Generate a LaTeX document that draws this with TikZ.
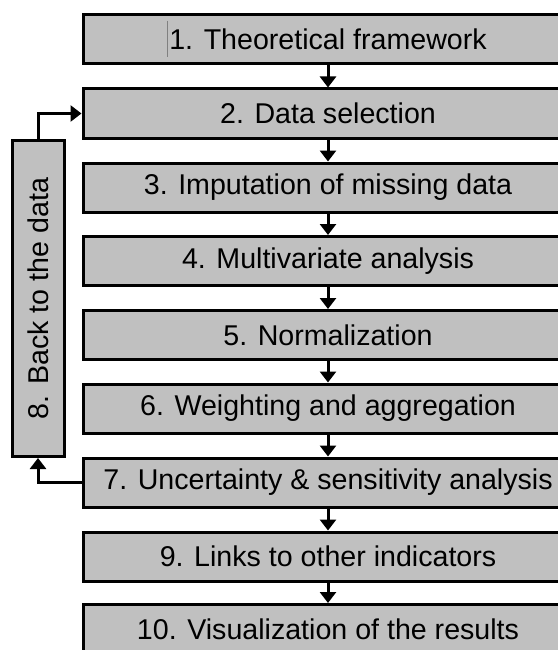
\documentclass[tikz,border=0pt]{standalone}
\usepackage{fontspec}
\setmainfont{Liberation Sans}
\usetikzlibrary{arrows.meta}
\definecolor{boxgray}{RGB}{192,192,192}
\begin{document}
\begin{tikzpicture}[x=1pt,y=-1pt,
  stage/.style={draw=black, line width=3pt, fill=boxgray,
    minimum width=490pt, minimum height=49pt, inner sep=0pt,
    font=\fontsize{28.6}{34}\selectfont},
  flow/.style={line width=3pt,
    -{Triangle[width=16pt,length=11pt]}}]
\useasboundingbox (0,0) rectangle (557,650);
% main column of stages
\node[stage] (s1)  at (328, 39.5)  {1. Theoretical framework};
\node[stage] (s2)  at (328,113.5) {2. Data selection};
\node[stage] (s3)  at (328,187.5) {3. Imputation of missing data};
\node[stage] (s4)  at (328,261)   {4. Multivariate analysis};
\node[stage] (s5)  at (328,335)   {5. Normalization};
\node[stage] (s6)  at (328,408.5) {6. Weighting and aggregation};
\node[stage] (s7)  at (328,482.5) {7. Uncertainty \& sensitivity analysis};
\node[stage] (s9)  at (328,556.5) {9. Links to other indicators};
\node[stage] (s10) at (328,629)   {10. Visualization of the results};
% feedback box on the left
\node[stage, minimum width=52pt, minimum height=316pt] (s8) at (38,298.5) {};
\node[rotate=90, font=\fontsize{28.6}{34}\selectfont] at (s8.center) {8. Back to the data};
% text cursor mark in the first box
\draw[gray, line width=0.9pt] (167,21) -- (167,57);
% arrows down the column
\foreach \a/\b in {s1/s2, s2/s3, s3/s4, s4/s5, s5/s6, s6/s7, s7/s9, s9/s10}
  \draw[flow] (\a.south) -- (\b.north);
% feedback loop
\draw[flow] (s7.west) -| (s8.south);
\draw[flow] (s8.north) |- (s2.west);
\end{tikzpicture}
\end{document}
